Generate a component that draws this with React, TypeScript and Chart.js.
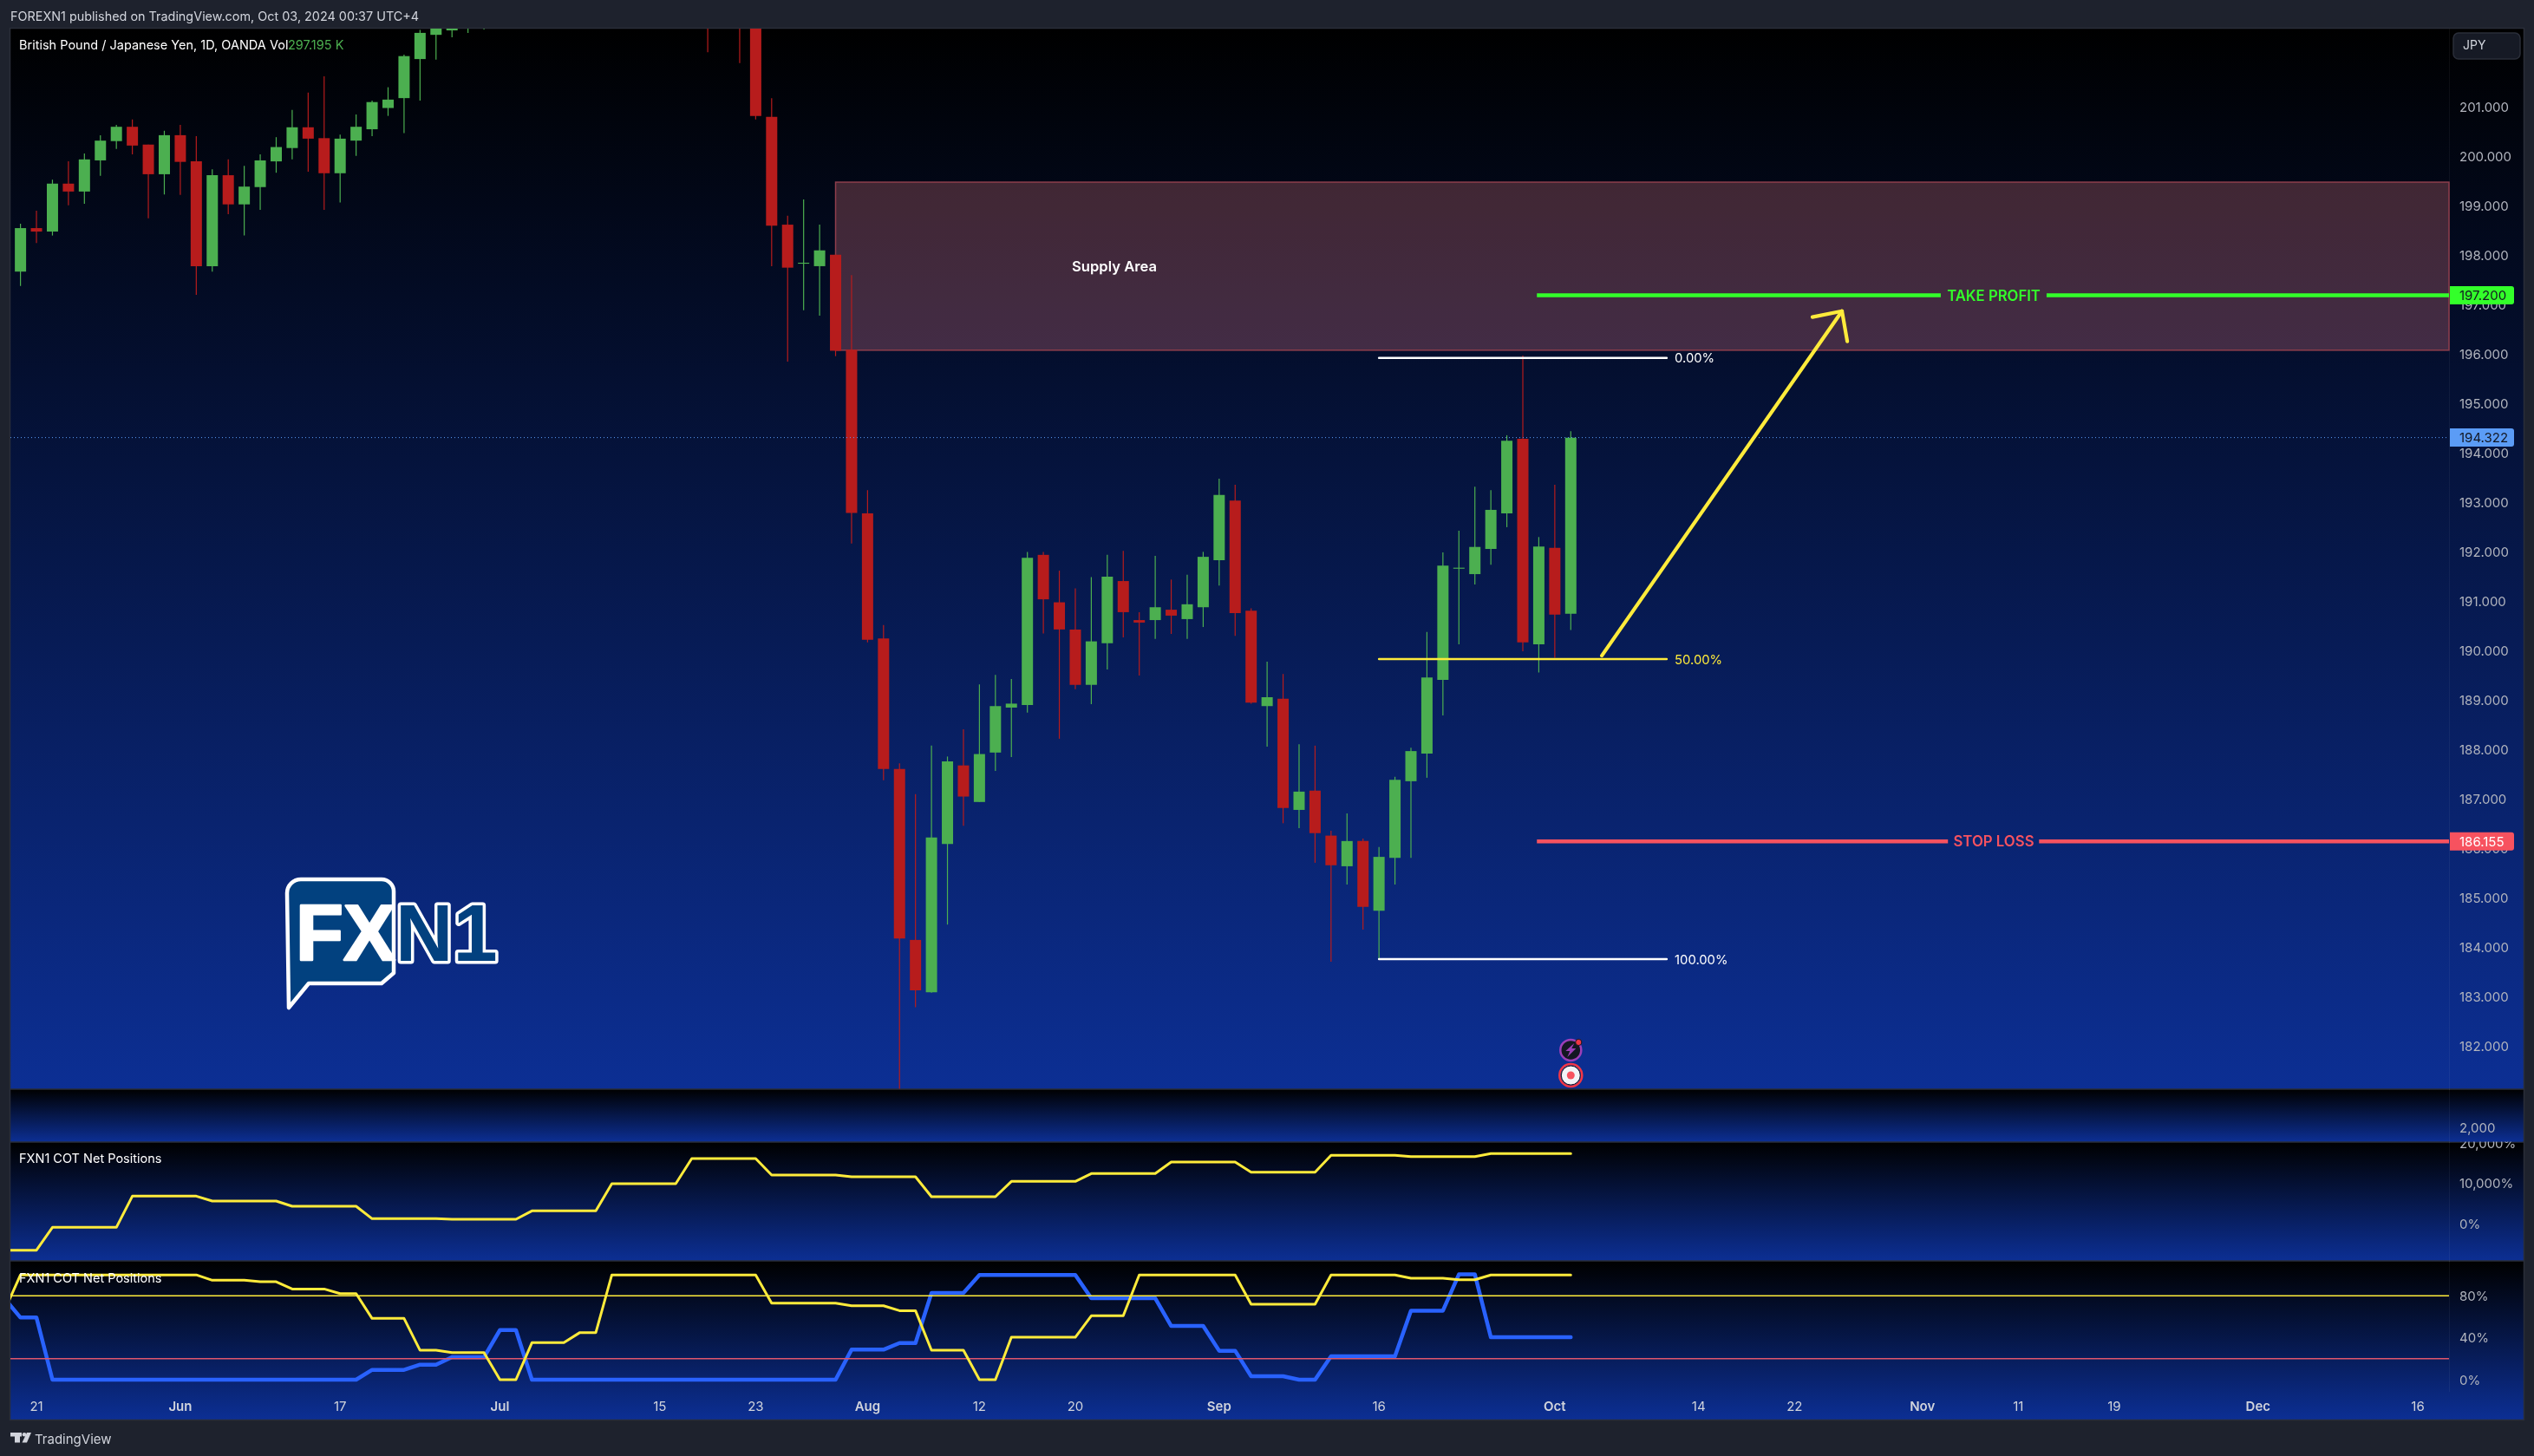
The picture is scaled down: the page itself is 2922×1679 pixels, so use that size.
import React, { useEffect, useRef } from "react";
import { Chart, registerables } from "chart.js";

Chart.register(...registerables);

const opens = [197.68,198.56,198.49,199.46,199.30,199.93,200.32,200.61,200.25,199.65,200.44,199.91,197.79,199.63,199.04,199.39,199.91,200.18,200.60,200.38,199.67,200.33,200.56,200.99,201.19,201.98,202.47,202.56,202.85,203.10,203.40,204.00,204.50,205.00,205.60,205.90,206.70,207.10,207.60,207.80,205.00,204.70,204.90,204.40,203.90,203.70,203.50,200.81,198.63,197.84,197.79,198.02,196.10,192.79,190.26,187.62,184.16,183.10,186.10,187.69,186.95,187.95,188.86,188.91,191.95,190.99,190.44,189.32,190.16,191.42,190.63,190.63,190.84,190.65,190.89,191.84,193.05,190.82,188.89,189.04,186.79,187.18,186.27,185.65,186.16,184.75,185.82,187.37,187.93,189.42,191.67,191.56,192.07,192.79,194.30,190.14,192.09,190.76];
const closes = [198.56,198.49,199.46,199.30,199.95,200.33,200.61,200.23,199.65,200.44,199.90,197.79,199.63,199.04,199.40,199.93,200.20,200.60,200.37,199.67,200.37,200.61,201.11,201.16,202.04,202.51,202.80,202.85,203.10,203.40,204.00,204.50,205.00,205.60,205.90,206.70,207.10,207.60,207.80,205.00,204.70,204.90,204.40,203.90,203.70,203.50,200.83,198.61,197.76,197.86,198.11,196.08,192.80,190.23,187.62,184.19,183.14,186.23,187.77,187.06,187.92,188.89,188.94,191.89,191.05,190.44,189.32,190.20,191.51,190.79,190.58,190.89,190.72,190.95,191.91,193.16,190.77,188.96,189.07,186.83,187.16,186.32,185.67,186.16,184.83,185.84,187.40,187.98,189.47,191.73,191.69,192.11,192.86,194.26,190.18,192.12,190.74,194.32];
const highs = [198.65,198.91,199.54,199.91,200.07,200.44,200.65,200.76,200.25,200.53,200.65,200.42,199.75,199.95,199.82,200.05,200.40,200.95,201.30,201.63,200.45,200.86,201.14,201.41,202.07,202.57,203.00,203.00,203.40,203.70,204.30,204.80,205.20,205.90,206.20,207.00,207.40,208.00,208.10,208.10,205.50,205.40,205.20,204.80,204.20,204.00,203.90,201.19,198.81,199.14,198.63,198.02,197.61,193.26,190.53,187.73,187.11,188.09,187.87,188.42,189.33,189.52,189.44,192.01,192.01,191.63,191.27,191.50,191.95,192.03,190.79,191.93,191.45,191.55,192.01,193.49,193.37,190.87,189.79,189.54,188.12,188.09,186.37,186.72,186.21,186.04,187.46,188.05,190.39,192.00,192.44,193.33,193.26,194.37,195.98,192.31,193.37,194.45];
const lows = [197.39,198.26,198.41,199.02,199.05,199.62,200.16,200.05,198.76,199.24,199.23,197.21,197.68,198.84,198.41,198.93,199.68,199.95,199.70,198.93,199.08,200.02,200.42,200.83,200.48,201.14,201.97,202.42,202.51,202.58,203.10,203.80,204.30,204.90,205.40,205.70,206.50,207.00,207.30,204.50,204.30,204.40,204.00,202.12,203.20,201.90,200.76,197.79,195.86,196.90,196.79,195.97,192.18,190.18,187.39,181.15,182.80,183.09,184.47,186.47,186.95,187.58,187.86,188.76,190.36,188.23,189.23,188.93,189.63,190.28,189.51,190.25,190.35,190.25,190.49,191.33,190.31,188.94,188.07,186.52,186.42,185.72,183.72,185.28,184.37,183.77,185.28,185.82,187.44,188.70,190.14,191.35,191.75,192.51,190.00,189.57,189.87,190.43];

const priceTicks = [182,183,184,185,186,187,188,189,190,191,192,193,194,195,196,197,198,199,200,201];
const volumeTicks = [2000];
const netTicks = [0,10000,20000];
const indexTicks = [0,40,80];
const timeTickIndex = [1,10,20,30,40,46,53,60,66,75,85,96,105,111,119,125,131,140,150];
const timeTickLabels = ["21","Jun","17","Jul","15","23","Aug","12","20","Sep","16","Oct","14","22","Nov","11","19","Dec","16"];

const netPositions = [-6638,-6638,-6638,-938,-938,-938,-938,-938,6854,6854,6854,6854,6854,5628,5628,5628,5628,5628,4329,4329,4329,4329,4329,1227,1227,1227,1227,1227,1082,1082,1082,1082,1082,3175,3175,3175,3175,3175,9957,9957,9957,9957,9957,16234,16234,16234,16234,16234,12121,12121,12121,12121,12121,11688,11688,11688,11688,11688,6710,6710,6710,6710,6710,10534,10534,10534,10534,10534,12482,12482,12482,12482,12482,15368,15368,15368,15368,15368,12843,12843,12843,12843,12843,17027,17027,17027,17027,17027,16739,16739,16739,16739,16739,17460,17460,17460,17460,17460,17460];
const longIndex = [66,100,100,100,100,100,100,100,100,100,100,100,100,94.9,94.9,94.9,93.5,93.5,86.6,86.6,86.6,82.2,82.2,58.5,58.5,58.5,28.1,28.1,25.9,25.9,25.9,0,0,35.3,35.3,35.3,45,45,100,100,100,100,100,100,100,100,100,100,73.1,73.1,73.1,73.1,73.1,70.6,70.6,70.6,65.9,65.9,28.1,28.1,28.1,0,0,40.5,40.5,40.5,40.5,40.5,61,61,61,100,100,100,100,100,100,100,72,72,72,72,72,100,100,100,100,100,96.8,96.8,96.8,95.4,95.4,100,100,100,100,100,100];
const shortIndex = [77.5,59.3,59.3,0,0,0,0,0,0,0,0,0,0,0,0,0,0,0,0,0,0,0,0,9.4,9.4,9.4,14.3,14.3,21.5,21.5,21.5,47.4,47.4,0,0,0,0,0,0,0,0,0,0,0,0,0,0,0,0,0,0,0,0,28.7,28.7,28.7,35,35,82.7,82.7,82.7,100,100,100,100,100,100,100,77.8,77.8,77.8,77.8,77.8,51.3,51.3,51.3,27.6,27.6,3.3,3.3,3.3,0,0,22.3,22.3,22.3,22.3,22.3,65.9,65.9,65.9,100.5,100.5,40.5,40.5,40.5,40.5,40.5,40.5];

const lastPrice = 194.322;
const takeProfit = 197.2;
const stopLoss = 186.155;
const fibLevels = [195.935, 189.84, 183.77];
const fibNames = ["0.00%", "50.00%", "100.00%"];
const supplyTop = 199.49;
const supplyBottom = 196.09;
const overboughtLevel = 80;
const oversoldLevel = 20;

const GREEN = "#4caf50";
const RED = "#b71c1c";
const YELLOW = "#ffeb3b";
const BLUE = "#2962ff";
const PAGE = "#1e222d";
const SEP = "#2a2e39";
const TEXT = "#d1d4dc";
const AXIS = "#b2b5be";
const LIME = "#33ff2a";
const STOP = "#f7525f";
const PRICE_BLUE = "#5b9cf6";
const SANS = "Inter, 'Noto Sans', sans-serif";
const XMIN = -0.63;
const XMAX = 151.95;

const barIdx = opens.map((_, i) => i);
const isUp = opens.map((o, i) => closes[i] >= o);
const barColors = isUp.map((u) => (u ? GREEN : RED));
const seg = (x0: number, y0: number, x1: number, y1: number) => [{ x: x0, y: y0 }, { x: x1, y: y1 }];
const lineDs = (data: any[], color: string, width: number, yAxisID = "y", extra: any = {}) => ({
  type: "line", data, borderColor: color, borderWidth: width, pointRadius: 0, yAxisID, order: 1,
  tension: 0, parsing: true, spanGaps: false, borderCapStyle: "round", borderJoinStyle: "round", ...extra,
});
const indicator = (vals: number[]) => vals.map((y, i) => ({ x: i - 1, y }));

const grad = (ctx: CanvasRenderingContext2D, y0: number, y1: number) => {
  const g = ctx.createLinearGradient(0, y0, 0, y1);
  g.addColorStop(0, "#000000");
  g.addColorStop(1, "#0c2f94");
  return g;
};

const drawBadge = (ctx: CanvasRenderingContext2D, y: number, h: number, bg: string, fg: string, label: string) => {
  ctx.fillStyle = bg;
  ctx.beginPath();
  ctx.roundRect(2825, y - h / 2, 74, h, [0, 3, 3, 0]);
  ctx.fill();
  ctx.fillStyle = fg;
  ctx.font = `15px ${SANS}`;
  ctx.textAlign = "left";
  ctx.textBaseline = "middle";
  ctx.fillText(label, 2836, y + 1);
};

const txt = (ctx: CanvasRenderingContext2D, s: string, x: number, y: number, color: string, font: string, align: CanvasTextAlign = "left") => {
  ctx.fillStyle = color;
  ctx.font = font;
  ctx.textAlign = align;
  ctx.textBaseline = "middle";
  ctx.fillText(s, x, y + 1);
};

const drawLogo = (ctx: CanvasRenderingContext2D) => {
  ctx.save();
  ctx.lineJoin = "round";
  ctx.strokeStyle = "#ffffff";
  ctx.lineWidth = 4.5;
  ctx.fillStyle = "#02417f";
  ctx.beginPath();
  ctx.moveTo(348, 1014);
  ctx.lineTo(440, 1014);
  ctx.arcTo(454, 1014, 454, 1028, 14);
  ctx.lineTo(454, 1122);
  ctx.lineTo(440, 1134);
  ctx.lineTo(356, 1134);
  ctx.lineTo(333, 1162);
  ctx.lineTo(331, 1030);
  ctx.arcTo(331, 1014, 348, 1014, 16);
  ctx.closePath();
  ctx.fill();
  ctx.stroke();
  ctx.fillStyle = "#ffffff";
  ctx.font = "bold 90px 'Liberation Sans', Arial, sans-serif";
  ctx.textAlign = "left";
  ctx.textBaseline = "alphabetic";
  ctx.lineWidth = 2.5;
  ctx.strokeText("FX", 341, 1107);
  ctx.fillText("FX", 341, 1107);
  ctx.font = "bold 92px 'Liberation Sans', Arial, sans-serif";
  ctx.lineWidth = 7;
  ctx.strokeText("N1", 456, 1108);
  ctx.fillStyle = "#02417f";
  ctx.fillText("N1", 456, 1108);
  ctx.restore();
};

const drawTvLogo = (ctx: CanvasRenderingContext2D) => {
  ctx.fillStyle = TEXT;
  ctx.fillRect(12, 1652, 13, 4.5);
  ctx.fillRect(17, 1652, 6, 11.5);
  ctx.beginPath();
  ctx.arc(28, 1654.2, 2.3, 0, Math.PI * 2);
  ctx.fill();
  ctx.beginPath();
  ctx.moveTo(31, 1652);
  ctx.lineTo(36, 1652);
  ctx.lineTo(31, 1663.5);
  ctx.lineTo(25.5, 1663.5);
  ctx.closePath();
  ctx.fill();
};

const panelPlugin = {
  id: "panels",
  beforeDraw(chart: any) {
    const { ctx, scales } = chart;
    ctx.save();
    ctx.fillStyle = PAGE;
    ctx.fillRect(0, 0, chart.width, chart.height);
    const left = 12, right = 2910;
    const ranges = [
      [scales.y.top, scales.y.bottom],
      [scales.vol.top, scales.vol.bottom],
      [scales.net.top, scales.net.bottom],
      [scales.idx.top, scales.x.bottom],
    ];
    ranges.forEach(([a, b]) => {
      ctx.fillStyle = grad(ctx, a, b);
      ctx.fillRect(left, a, right - left, b - a);
    });
    ctx.strokeStyle = SEP;
    ctx.lineWidth = 1.5;
    ctx.strokeRect(left - 0.5, scales.y.top - 0.5, right - left + 1, scales.x.bottom - scales.y.top + 1);
    ranges.slice(0, 3).forEach(([, b]) => {
      ctx.beginPath();
      ctx.moveTo(left, b);
      ctx.lineTo(right, b);
      ctx.stroke();
    });
    ctx.restore();
  },
  beforeDatasetsDraw(chart: any) {
    const { ctx, scales } = chart;
    const x0 = scales.x.getPixelForValue(51);
    const x1 = scales.x.right;
    const y0 = scales.y.getPixelForValue(supplyTop);
    const y1 = scales.y.getPixelForValue(supplyBottom);
    ctx.save();
    ctx.fillStyle = "rgba(255,135,145,0.25)";
    ctx.fillRect(x0, y0, x1 - x0, y1 - y0);
    ctx.strokeStyle = "#8f3e4c";
    ctx.lineWidth = 1.5;
    ctx.strokeRect(x0, y0, x1 - x0, y1 - y0);
    ctx.restore();
  },
  afterDraw(chart: any) {
    const { ctx, scales } = chart;
    const px = (v: number) => scales.x.getPixelForValue(v);
    const py = (v: number) => scales.y.getPixelForValue(v);
    ctx.save();
    // top of the 20,000% label is cut by the pane edge
    ctx.fillStyle = grad(ctx, scales.vol.top, scales.vol.bottom);
    ctx.fillRect(2825, 1309, 84, scales.vol.bottom - 1309 - 0.5);

    txt(ctx, "FOREXN1 published on TradingView.com, Oct 03, 2024 00:37 UTC+4", 12, 19, TEXT, `14.4px ${SANS}`);
    txt(ctx, "British Pound / Japanese Yen, 1D, OANDA", 22, 52, "#ffffff", `14.5px ${SANS}`);
    txt(ctx, "Vol", 311, 52, "#ffffff", `14.5px ${SANS}`);
    txt(ctx, "297.195 K", 332, 52, GREEN, `14.5px ${SANS}`);
    txt(ctx, "FXN1 COT Net Positions", 22, 1336, "#ffffff", `14.5px ${SANS}`);
    txt(ctx, "FXN1 COT Net Positions", 22, 1474, "#ffffff", `14.5px ${SANS}`);
    txt(ctx, "TradingView", 40, 1659, TEXT, `15px ${SANS}`);
    drawTvLogo(ctx);

    txt(ctx, "Supply Area", 1285, 307, "#ffffff", `600 16.6px ${SANS}`, "center");
    txt(ctx, "TAKE PROFIT", 2299, py(takeProfit), LIME, `600 16.7px ${SANS}`, "center");
    txt(ctx, "STOP LOSS", 2299, py(stopLoss), STOP, `600 16.8px ${SANS}`, "center");
    const fibColors = ["#ffffff", YELLOW, "#ffffff"];
    fibLevels.forEach((lvl, i) => {
      txt(ctx, fibNames[i], px(103.5), py(lvl), fibColors[i], `14.8px ${SANS}`);
    });

    // JPY currency button
    ctx.fillStyle = "#161a25";
    ctx.strokeStyle = SEP;
    ctx.lineWidth = 1.5;
    ctx.beginPath();
    ctx.roundRect(2829, 38, 77, 30, 6);
    ctx.fill();
    ctx.stroke();
    txt(ctx, "JPY", 2840, 52, TEXT, `14px ${SANS}`);

    drawBadge(ctx, py(takeProfit), 21, LIME, "#131722", takeProfit.toFixed(3));
    drawBadge(ctx, py(lastPrice), 21, PRICE_BLUE, "#131722", lastPrice.toFixed(3));
    drawBadge(ctx, py(stopLoss), 21, STOP, "#ffffff", stopLoss.toFixed(3));

    // event markers on the last bar
    const ex = px(97);
    ctx.fillStyle = "#131722";
    ctx.strokeStyle = "#9c3fb8";
    ctx.lineWidth = 2.5;
    ctx.beginPath();
    ctx.arc(ex, py(181.93), 12, 0, Math.PI * 2);
    ctx.fill();
    ctx.stroke();
    ctx.fillStyle = "#9c3fb8";
    const by = py(181.93);
    ctx.beginPath();
    ctx.moveTo(ex + 4, by - 8);
    ctx.lineTo(ex - 6, by + 1);
    ctx.lineTo(ex - 1, by + 1);
    ctx.lineTo(ex - 4, by + 8);
    ctx.lineTo(ex + 6, by - 2);
    ctx.lineTo(ex + 1, by - 2);
    ctx.closePath();
    ctx.fill();
    ctx.fillStyle = "#f23645";
    ctx.strokeStyle = "#131722";
    ctx.lineWidth = 1;
    ctx.beginPath();
    ctx.arc(ex + 9, by - 9, 3.6, 0, Math.PI * 2);
    ctx.fill();
    ctx.stroke();
    const ry = py(181.42);
    ctx.fillStyle = "#f2f3f7";
    ctx.beginPath();
    ctx.arc(ex, ry, 11, 0, Math.PI * 2);
    ctx.fill();
    ctx.strokeStyle = "#131722";
    ctx.lineWidth = 1;
    ctx.stroke();
    ctx.strokeStyle = "#f23645";
    ctx.lineWidth = 2.5;
    ctx.beginPath();
    ctx.arc(ex, ry, 13, 0, Math.PI * 2);
    ctx.stroke();
    ctx.fillStyle = "#f7525f";
    ctx.beginPath();
    ctx.arc(ex, ry, 4.5, 0, Math.PI * 2);
    ctx.fill();

    drawLogo(ctx);
    ctx.restore();
  },
};

const fixedWidth = (s: any) => { s.width = 86; };
const axisBase = (stack: number, ticks: number[], cb: (v: number) => string, min: number, max: number) => ({
  type: "linear",
  position: "right",
  stack: "panes",
  stackWeight: stack,
  min,
  max,
  grid: { display: false, drawTicks: false },
  border: { display: true, color: "rgba(255,255,255,0.05)" },
  afterFit: fixedWidth,
  afterBuildTicks: (s: any) => { s.ticks = ticks.map((value) => ({ value })); },
  ticks: {
    color: AXIS, padding: 12, autoSkip: false, labelOffset: 1, font: { family: SANS, size: 15 },
    callback: (v: any) => cb(Number(v)),
  },
});

export default function App() {
  const ref = useRef<HTMLCanvasElement | null>(null);
  useEffect(() => {
    document.body.style.margin = "0";
    document.body.style.background = PAGE;
    const chart = new Chart(ref.current as HTMLCanvasElement, {
      type: "bar",
      data: {
        datasets: [
          {
            type: "bar", data: barIdx.map((x) => ({ x, y: [lows[x], highs[x]] })), backgroundColor: barColors,
            barThickness: 1.2, grouped: false, borderWidth: 0, inflateAmount: 0, yAxisID: "y", order: 6,
          },
          {
            type: "bar", data: barIdx.map((x) => ({ x, y: [Math.min(opens[x], closes[x]), Math.max(opens[x], closes[x])] })), backgroundColor: barColors,
            barThickness: 13, grouped: false, borderWidth: 0, inflateAmount: 0, yAxisID: "y", order: 5,
          },
          lineDs(seg(XMIN, lastPrice, XMAX, lastPrice), PRICE_BLUE, 1, "y", { borderDash: [1, 3], borderCapStyle: "butt", order: 4 }),
          lineDs(seg(85, fibLevels[0], 103, fibLevels[0]), "#ffffff", 2.5),
          lineDs(seg(85, fibLevels[1], 103, fibLevels[1]), YELLOW, 2.5),
          lineDs(seg(85, fibLevels[2], 103, fibLevels[2]), "#ffffff", 2.5),
          lineDs([{ x: 94.88, y: takeProfit }, { x: 120.15, y: takeProfit }, { x: 123, y: null }, { x: 126.77, y: takeProfit }, { x: XMAX, y: takeProfit }], LIME, 4.5, "y", { borderCapStyle: "butt" }),
          lineDs([{ x: 94.88, y: stopLoss }, { x: 120.6, y: stopLoss }, { x: 123, y: null }, { x: 126.3, y: stopLoss }, { x: XMAX, y: stopLoss }], STOP, 4.5, "y", { borderCapStyle: "butt" }),
          lineDs(seg(98.94, 189.91, 113.97, 196.88), YELLOW, 4.2),
          lineDs([{ x: 112.12, y: 196.76 }, { x: 113.97, y: 196.88 }, { x: 114.3, y: 196.27 }], YELLOW, 4.2),
          lineDs(indicator(netPositions), YELLOW, 3, "net"),
          lineDs(seg(XMIN, overboughtLevel, XMAX, overboughtLevel), YELLOW, 1.5, "idx", { borderCapStyle: "butt" }),
          lineDs(seg(XMIN, oversoldLevel, XMAX, oversoldLevel), "#e0566b", 1.5, "idx", { borderCapStyle: "butt" }),
          lineDs(indicator(shortIndex), BLUE, 4.5, "idx"),
          lineDs(indicator(longIndex), YELLOW, 3, "idx", { order: 0 }),
        ] as any,
      },
      options: {
        responsive: false,
        animation: false,
        devicePixelRatio: 1,
        layout: { padding: { left: 12, top: 33, right: 12, bottom: 42 } },
        plugins: { legend: { display: false }, tooltip: { enabled: false }, title: { display: false } },
        scales: {
          x: {
            type: "linear", position: "bottom", min: XMIN, max: XMAX, offset: false,
            grid: { display: false, drawTicks: false, offset: false },
            border: { display: false },
            afterFit: (s: any) => { s.height = 33; },
            afterBuildTicks: (s: any) => { s.ticks = timeTickIndex.map((value) => ({ value })); },
            ticks: {
              color: TEXT, padding: 9, autoSkip: false, maxRotation: 0, minRotation: 0,
              font: (c: any) => {
                const label = timeTickLabels[timeTickIndex.indexOf(c.tick?.value)] || "";
                return { family: SANS, size: 15, weight: /[A-Za-z]/.test(label) ? "600" : "400" };
              },
              callback: (v: any) => timeTickLabels[timeTickIndex.indexOf(Number(v))] ?? "",
            },
          },
          y: axisBase(1223, priceTicks, (v) => v.toFixed(3), 181.14, 202.596),
          vol: axisBase(61, volumeTicks, (v) => v.toLocaleString("en-US"), 0, 7176),
          net: axisBase(137, netTicks, (v) => `${v.toLocaleString("en-US")}%`, -9307, 20346),
          idx: axisBase(150, indexTicks, (v) => `${v}%`, -10.76, 113.4),
        } as any,
      },
      plugins: [panelPlugin],
    } as any);
    return () => chart.destroy();
  }, []);
  return (
    <div style={{ width: 2922, height: 1679, overflow: "hidden" }}>
      <canvas ref={ref} width={2922} height={1679} style={{ display: "block", width: 2922, height: 1679 }} />
    </div>
  );
}
